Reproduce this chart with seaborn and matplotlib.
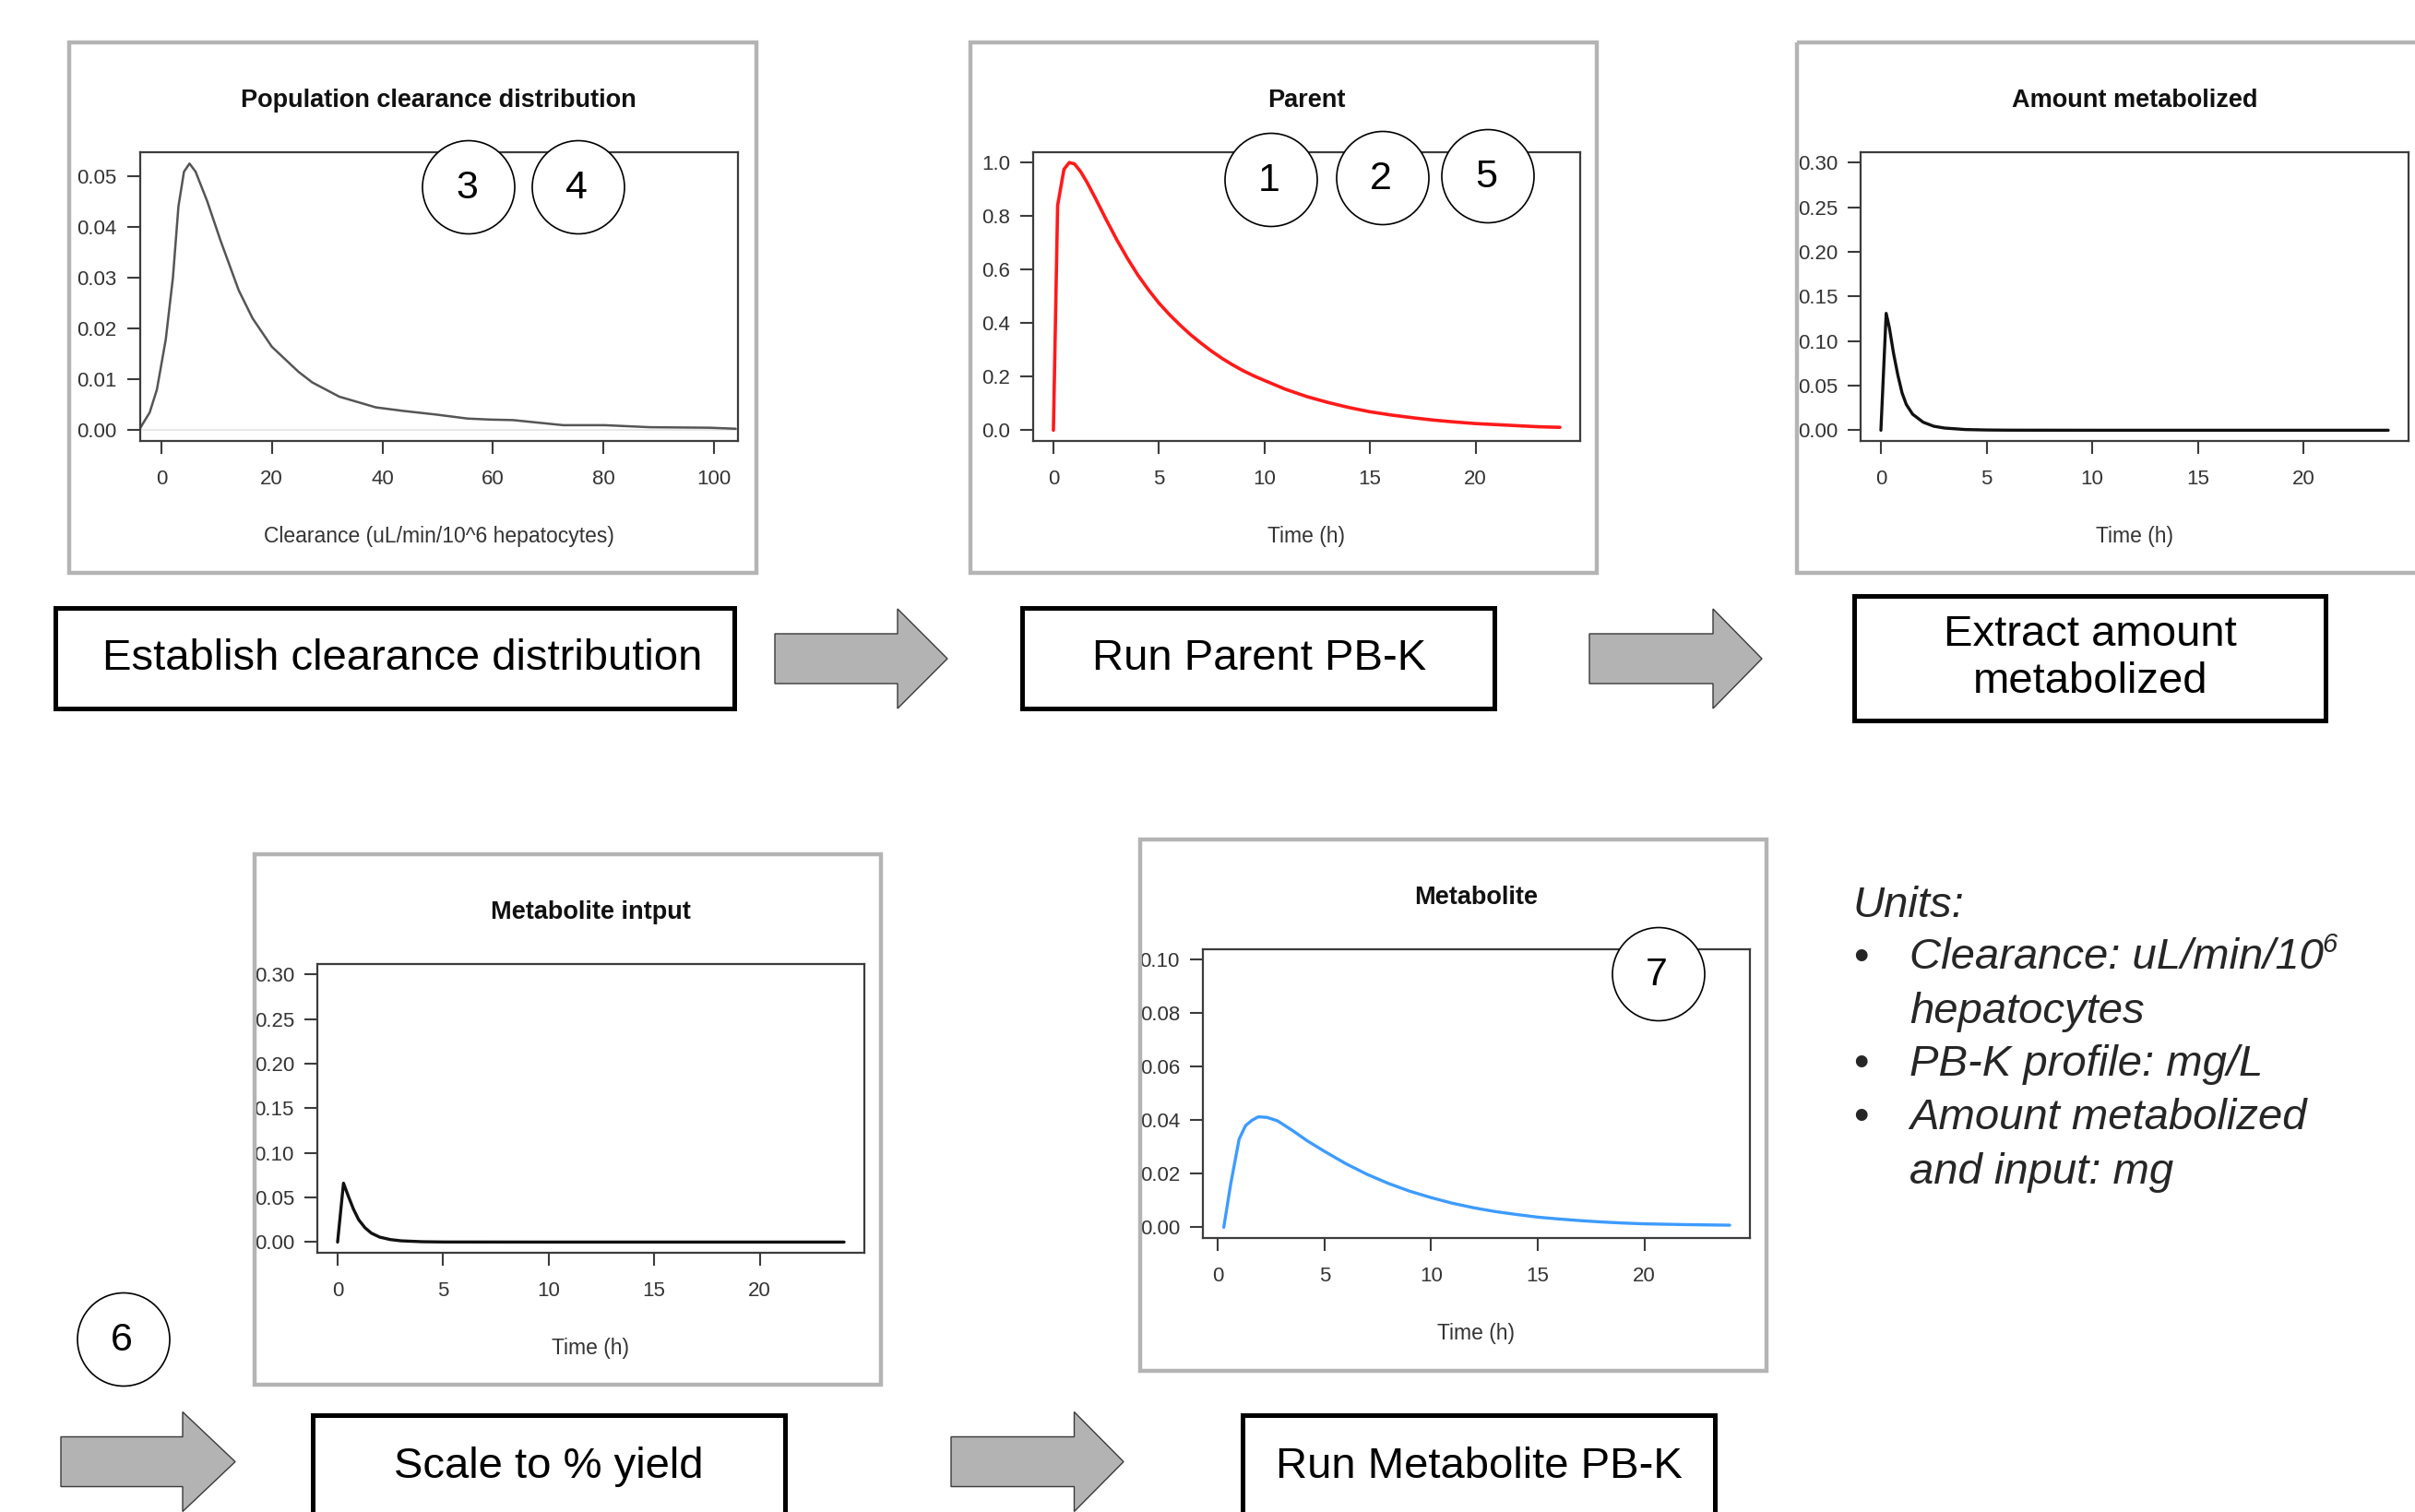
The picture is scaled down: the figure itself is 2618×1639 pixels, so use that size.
import numpy as np
import pandas as pd
import seaborn as sns
import matplotlib.pyplot as plt
from matplotlib.patches import Rectangle, Ellipse, Polygon
from matplotlib.ticker import FormatStrFormatter

W, H = 2618, 1639

# population clearance density (uL/min/10^6 hepatocytes)
clearance = [-3.9, -2.1, -0.8, 0.8, 2.1, 3.1, 4.1, 5.1, 6.2, 8.3, 10.7, 14, 16.5, 20,
             24.8, 27.3, 32.2, 38.8, 43.8, 49.6, 55.4, 59.5, 63.6, 72.7, 80.2, 88.4, 99.2, 103.9]
clearance_density = [0.0003, 0.0035, 0.008, 0.0178, 0.030, 0.044, 0.0508, 0.0524, 0.0508, 0.045,
                     0.0373, 0.0275, 0.022, 0.0164, 0.0115, 0.0094, 0.0066, 0.0045, 0.0038, 0.0031,
                     0.0023, 0.0021, 0.0020, 0.0010, 0.0010, 0.0006, 0.0005, 0.0003]

# parent PB-K profile (mg/L)
parent_time = [0, 0.2, 0.5, 0.75, 1.0, 1.3, 1.6, 2.0, 2.5, 3.0, 3.5, 4.0, 4.5, 5.0, 5.5, 6.0,
               6.5, 7.0, 7.5, 8.0, 8.5, 9.0, 9.5, 10, 11, 12, 13, 14, 15, 16, 17, 18, 19, 20,
               21, 22, 23, 24]
parent_conc = [0, 0.84, 0.975, 1.0, 0.995, 0.965, 0.925, 0.865, 0.787, 0.712, 0.643, 0.58, 0.525,
               0.475, 0.432, 0.393, 0.357, 0.325, 0.295, 0.268, 0.244, 0.222, 0.203, 0.186, 0.153,
               0.126, 0.104, 0.085, 0.069, 0.057, 0.047, 0.038, 0.031, 0.025, 0.021, 0.017, 0.013,
               0.011]

# amount metabolized (mg)
amount_time = [0, 0.25, 0.4, 0.6, 0.8, 1.0, 1.2, 1.5, 2.0, 2.5, 3, 4, 5, 6, 10, 24]
amount_metab = [0, 0.131, 0.115, 0.086, 0.062, 0.042, 0.029, 0.018, 0.009, 0.0045, 0.0025,
                0.0008, 0.0003, 0.0001, 0, 0]

# metabolite input (mg)
input_time = [0, 0.28, 0.5, 0.75, 1.0, 1.3, 1.6, 2.0, 2.5, 3, 4, 5, 10, 24]
input_amount = [0, 0.066, 0.052, 0.037, 0.025, 0.016, 0.010, 0.0055, 0.0028, 0.0014, 0.0004,
                0.0001, 0, 0]

# metabolite PB-K profile (mg/L)
metab_time = [0.28, 0.6, 1.0, 1.3, 1.6, 1.9, 2.3, 2.8, 3.5, 4.2, 5, 6, 7, 8, 9, 10, 11, 12,
              13, 14, 15, 16, 17, 18, 19, 20, 22, 24]
metab_conc = [0, 0.016, 0.033, 0.038, 0.040, 0.0413, 0.0411, 0.0398, 0.0362, 0.0323, 0.0284,
              0.0238, 0.0198, 0.0164, 0.0135, 0.0111, 0.009, 0.0073, 0.0059, 0.0048, 0.0038,
              0.0031, 0.0025, 0.002, 0.0016, 0.0013, 0.001, 0.0008]

step_labels = ["Establish clearance distribution", "Run Parent PB-K", "Extract amount\nmetabolized",
               "Scale to % yield", "Run Metabolite PB-K"]
units_lines = ["hepatocytes", "PB-K profile: mg/L", "Amount metabolized", "and input: mg"]

sns.set_theme(style="white")
plt.rcParams['font.family'] = ['Liberation Sans', 'DejaVu Sans']

fig = plt.figure(figsize=(W / 100, H / 100), dpi=100)


def px_rect(x0, y0, x1, y1):
    return [x0 / W, 1 - y1 / H, (x1 - x0) / W, (y1 - y0) / H]


def r_panel(rect, x, y, color, lw, xlim, ylim, xticks, yticks, yfmt, title, xlabel, zero_line=False):
    ax = fig.add_axes(px_rect(*rect))
    df = pd.DataFrame({'x': x, 'y': y})
    if zero_line:
        ax.axhline(0, color='#e4e4e4', lw=1.2, zorder=0)
    sns.lineplot(data=df, x='x', y='y', ax=ax, color=color, lw=lw, errorbar=None)
    ax.set_xlim(xlim)
    ax.set_ylim(ylim)
    ax.set_xticks(xticks)
    ax.set_yticks(yticks)
    ax.yaxis.set_major_formatter(FormatStrFormatter(yfmt))
    for s in ax.spines.values():
        s.set_visible(True)
        s.set_color('#3c3c3c')
        s.set_linewidth(1.6)
    ax.tick_params(direction='out', length=10, width=1.5, color='#3c3c3c',
                   labelsize=16, labelcolor='#333333', left=True, bottom=True)
    ax.tick_params(axis='x', pad=12)
    ax.tick_params(axis='y', pad=8)
    ax.set_title(title, fontsize=19.5, fontweight='bold', pad=35, color='#111111')
    ax.set_xlabel(xlabel, fontsize=16.5, color='#333333')
    ax.set_ylabel('')
    ax.xaxis.set_label_coords(0.5, -0.33)
    ax.xaxis.label.set_va('center')
    return ax


r_panel((151.5, 164.6, 800, 478), clearance, clearance_density, '#555555', 1.8,
        (-3.9, 104.3), (-0.0021, 0.0547), [0, 20, 40, 60, 80, 100],
        [0, 0.01, 0.02, 0.03, 0.04, 0.05], '%.2f',
        'Population clearance distribution', 'Clearance (uL/min/10^6 hepatocytes)', zero_line=True)
r_panel((1120, 164.6, 1713, 478), parent_time, parent_conc, '#ff1a1a', 2.6,
        (-0.96, 24.96), (-0.04, 1.04), [0, 5, 10, 15, 20],
        [0, 0.2, 0.4, 0.6, 0.8, 1.0], '%.1f', 'Parent', 'Time (h)')
r_panel((2017, 164.6, 2611, 478), amount_time, amount_metab, '#111111', 2.4,
        (-0.96, 24.96), (-0.012, 0.312), [0, 5, 10, 15, 20],
        [0, 0.05, 0.10, 0.15, 0.20, 0.25, 0.30], '%.2f', 'Amount metabolized', 'Time (h)')
r_panel((344, 1044.6, 937, 1358), input_time, input_amount, '#111111', 2.4,
        (-0.96, 24.96), (-0.012, 0.312), [0, 5, 10, 15, 20],
        [0, 0.05, 0.10, 0.15, 0.20, 0.25, 0.30], '%.2f', 'Metabolite intput', 'Time (h)')
r_panel((1304, 1028.8, 1897, 1342), metab_time, metab_conc, '#3d9bff', 2.4,
        (-0.7, 24.95), (-0.004, 0.104), [0, 5, 10, 15, 20],
        [0, 0.02, 0.04, 0.06, 0.08, 0.10], '%.2f', 'Metabolite', 'Time (h)')

# overlay for the flow diagram parts
ov = fig.add_axes([0, 0, 1, 1], zorder=10)
ov.set_xlim(0, W)
ov.set_ylim(H, 0)
ov.axis('off')
ov.patch.set_alpha(0)

# grey frames round the R plots
for x0, y0, x1, y1 in [(75, 46, 820, 621), (1052, 46, 1731, 621), (1948, 46, 2680, 621),
                       (276, 926, 955, 1501), (1236, 910, 1915, 1486)]:
    ov.add_patch(Rectangle((x0, y0), x1 - x0, y1 - y0, fill=False, ec='#b4b4b4', lw=3.2))

# step boxes
boxes = [(60, 659, 796, 768), (1108, 659, 1620, 768), (2010, 646, 2521, 781),
         (339, 1534, 851, 1720), (1347, 1534, 1859, 1720)]
centers = [(436, 713.5), (1365, 713.5), (2266, 713.5), (595, 1589.5), (1603, 1589.5)]
for (x0, y0, x1, y1), (cx, cy), lab in zip(boxes, centers, step_labels):
    ov.add_patch(Rectangle((x0, y0), x1 - x0, y1 - y0, fill=True, fc='white', ec='black', lw=3.6))
    ov.text(cx, cy, lab, fontsize=34, ha='center', va='center', color='black', linespacing=1.2)

# block arrows
for x0, xh, xt, cy in [(840, 973, 1027, 714), (1723, 1857, 1910, 714),
                       (66, 198, 255, 1584.5), (1031, 1164.5, 1218, 1584.5)]:
    pts = [(x0, cy - 27), (xh, cy - 27), (xh, cy - 54), (xt, cy), (xh, cy + 54),
           (xh, cy + 27), (x0, cy + 27)]
    ov.add_patch(Polygon(pts, closed=True, fc='#b3b3b3', ec='#3a3a3a', lw=1.0))

# numbered circles
for num, cx, cy in [('3', 508, 203), ('4', 627, 203), ('1', 1378, 195), ('2', 1499, 193),
                    ('5', 1613, 191), ('7', 1798, 1056), ('6', 134, 1452)]:
    ov.add_patch(Ellipse((cx, cy), 100, 101, fc='white', ec='black', lw=1.2))
    ov.text(cx - 2, cy + 1, num, fontsize=31, ha='center', va='center', color='black')

# units legend
ov.text(2008, 982, 'Units:', fontsize=34, style='italic', ha='left', va='center')
line_y = [1038.5, 1097, 1154, 1212, 1270.6]
for yy in [line_y[0], line_y[2], line_y[3]]:
    ov.text(2017, yy, '\u2022', fontsize=34, ha='center', va='center')
t = ov.text(2070, line_y[0], 'Clearance: uL/min/10', fontsize=34, style='italic',
            ha='left', va='center')
fig.canvas.draw()
bb = t.get_window_extent()
ov.text(2070 + bb.width - 2, line_y[0] - 14, '6', fontsize=21, style='italic',
        ha='left', va='center')
for yy, txt in zip(line_y[1:], units_lines):
    ov.text(2070, yy, txt, fontsize=34, style='italic', ha='left', va='center')

fig.savefig('out.png', dpi=100)
